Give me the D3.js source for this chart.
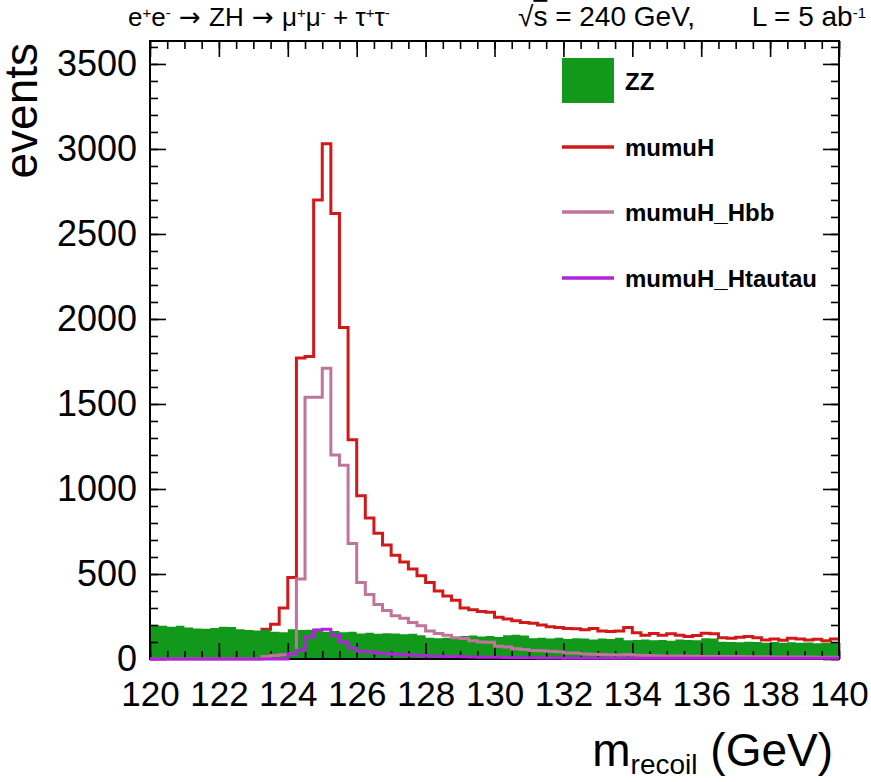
<!DOCTYPE html>
<html><head><meta charset="utf-8">
<script src="https://cdn.jsdelivr.net/npm/d3@7"></script>
<style>
body{margin:0;background:#fff}
svg{display:block}
text{font-family:"Liberation Sans",Arial,Helvetica,sans-serif;fill:#000}
</style>
</head><body>
<svg id="c" width="871" height="782"></svg>
<script>
// ---- data (80 bins of 0.25 GeV from 120 to 140) ----
const binLow = 120, binHigh = 140, binWidth = 0.25;
const zz = [200,195,190,195, 185,180,178,182, 190,188,175,170, 168,172,160,158,
            175,170,172,178, 160,165,158,160, 150,155,148,152, 150,145,148,140,
            125,122,125,120, 135,138,132,135, 130,140,142,138, 122,125,120,125,
            118,122,120,115, 120,118,125,110, 112,115,110,112, 108,115,112,110,
            122,120,102,100, 98,102,100,96, 100,96,98,95, 97,93,96,100];
const mumuH = [140,135,138,132, 130,128,135,130, 128,125,130,132, 140,175,205,300,
               480,1770,1780,2700, 3030,2620,1950,1290, 960,830,740,670, 610,570,530,490,
               450,400,370,345, 300,290,280,275, 245,235,225,215, 210,200,190,185,
               180,178,172,180, 165,162,165,185, 155,140,150,140, 148,140,132,138,
               152,148,125,122, 128,132,125,112, 118,110,122,118, 112,116,108,118];
const mumuH_Hbb = [0,0,0,0, 0,0,0,0, 0,0,0,0, 0,15,20,25,
                   30,470,1540,1540, 1710,1200,1140,680, 450,380,320,285, 255,240,215,195,
                   165,150,140,125, 120,108,100,98, 75,70,60,56, 50,48,46,42,
                   36,35,30,28, 27,25,24,26, 22,20,19,18, 18,17,16,16,
                   15,15,14,14, 14,13,13,13, 12,12,12,12, 12,11,11,11];
const mumuH_Htautau = [0,0,0,0, 0,0,0,0, 0,0,0,0, 0,0,0,0,
                       30,50,130,170, 175,140,100,65, 45,42,36,33, 28,25,22,20,
                       18,16,15,14, 13,12,11,10, 10,9,8,7, 7,6,6,6,
                       5,5,5,5, 5,5,5,5, 5,5,5,5, 4,4,4,4,
                       4,4,4,4, 4,4,4,4, 4,4,4,4, 4,4,4,4];
const xTickLabels = [120,122,124,126,128,130,132,134,136,138,140];
const yTickLabels = [0,500,1000,1500,2000,2500,3000,3500];
const yMax = 3635;
const legendNames = ["ZZ","mumuH","mumuH_Hbb","mumuH_Htautau"];

// ---- layout ----
const W = 871, H = 782;
const m = {left:150, right:32, top:41, bottom:123};
const pw = W - m.left - m.right, ph = H - m.top - m.bottom;
const col = {zz:"#12981a", h:"#d11919", hbb:"#c0749c", htt:"#b023d8"};

const svg = d3.select("#c");
const x = d3.scaleLinear().domain([binLow, binHigh]).range([m.left, m.left + pw]);
const y = d3.scaleLinear().domain([0, yMax]).range([m.top + ph, m.top]);

svg.append("clipPath").attr("id","clip").append("rect")
  .attr("x", m.left).attr("y", m.top - 2).attr("width", pw).attr("height", ph + 4);

function pts(vals){
  const p = vals.map((v,i)=>({e: binLow + i*binWidth, v}));
  p.push({e: binHigh, v: vals[vals.length-1]});
  return p;
}
const line = d3.line().curve(d3.curveStepAfter).x(d=>x(d.e)).y(d=>y(d.v));
const area = d3.area().curve(d3.curveStepAfter).x(d=>x(d.e)).y0(y(0)).y1(d=>y(d.v));

const g = svg.append("g").attr("clip-path","url(#clip)");
g.append("path").attr("d", line(pts(mumuH))).attr("fill","none").attr("stroke",col.h).attr("stroke-width",3);
g.append("path").attr("d", area(pts(zz))).attr("fill",col.zz).attr("stroke","none");

// ---- axes ----
const ax = svg.append("g");
const minorX = d3.range(binLow, binHigh + 0.001, 0.5);
const minorY = d3.range(0, yMax, 100);
function styleAxis(sel){ sel.select(".domain").remove(); sel.selectAll("line").attr("stroke","#000").attr("stroke-width",1.6); }

ax.append("g").attr("transform",`translate(0,${m.top+ph})`)
  .call(d3.axisBottom(x).tickValues(minorX).tickSizeInner(-8).tickSizeOuter(0).tickFormat(""))
  .call(styleAxis);
ax.append("g").attr("transform",`translate(0,${m.top})`)
  .call(d3.axisTop(x).tickValues(minorX).tickSizeInner(-8).tickSizeOuter(0).tickFormat(""))
  .call(styleAxis);
ax.append("g").attr("transform",`translate(0,${m.top})`)
  .call(d3.axisTop(x).tickValues(xTickLabels).tickSizeInner(-16).tickSizeOuter(0).tickFormat(""))
  .call(styleAxis);
const xb = ax.append("g").attr("transform",`translate(0,${m.top+ph})`)
  .call(d3.axisBottom(x).tickValues(xTickLabels).tickSizeInner(-16).tickSizeOuter(0).tickPadding(22).tickFormat(d3.format("d")))
  .call(styleAxis);
xb.selectAll("text").attr("font-size",35).attr("fill","#000");

ax.append("g").attr("transform",`translate(${m.left},0)`)
  .call(d3.axisLeft(y).tickValues(minorY).tickSizeInner(-8).tickSizeOuter(0).tickFormat(""))
  .call(styleAxis);
ax.append("g").attr("transform",`translate(${m.left+pw},0)`)
  .call(d3.axisRight(y).tickValues(minorY).tickSizeInner(-8).tickSizeOuter(0).tickFormat(""))
  .call(styleAxis);
ax.append("g").attr("transform",`translate(${m.left+pw},0)`)
  .call(d3.axisRight(y).tickValues(yTickLabels).tickSizeInner(-16).tickSizeOuter(0).tickFormat(""))
  .call(styleAxis);
const yl = ax.append("g").attr("transform",`translate(${m.left},0)`)
  .call(d3.axisLeft(y).tickValues(yTickLabels).tickSizeInner(-16).tickSizeOuter(0).tickPadding(13).tickFormat(d3.format("d")))
  .call(styleAxis);
yl.selectAll("text").attr("font-size",36).attr("fill","#000");

ax.append("rect").attr("x",m.left).attr("y",m.top).attr("width",pw).attr("height",ph)
  .attr("fill","none").attr("stroke","#000").attr("stroke-width",2);

// overlay histograms
const g2 = svg.append("g").attr("clip-path","url(#clip)");
g2.append("path").attr("d", line(pts(mumuH_Hbb))).attr("fill","none").attr("stroke",col.hbb).attr("stroke-width",3);
g2.append("path").attr("d", line(pts(mumuH_Htautau))).attr("fill","none").attr("stroke",col.htt).attr("stroke-width",3);

// ---- legend ----
const lg = svg.append("g");
const legX = 562, legW = 52, legTextX = 625;
const legY = [81, 147, 212, 278];
lg.append("rect").attr("x",legX).attr("y",legY[0]-23).attr("width",legW).attr("height",45).attr("fill",col.zz);
[[1,col.h],[2,col.hbb],[3,col.htt]].forEach(([i,c])=>{
  lg.append("line").attr("x1",legX).attr("x2",legX+legW).attr("y1",legY[i]).attr("y2",legY[i])
    .attr("stroke",c).attr("stroke-width",3.5);
});
legendNames.forEach((n,i)=>{
  lg.append("text").attr("x",legTextX).attr("y",legY[i]+9).attr("font-size",24).attr("font-weight","bold").text(n);
});

// ---- titles ----
function sup(t, s){ t.append("tspan").attr("baseline-shift","super").attr("font-size",15).text(s); }
function arrow(t){ t.append("tspan").attr("font-family","DejaVu Sans").text(" \u2192 "); }
const t1 = svg.append("text").attr("x",128).attr("y",26).attr("font-size",26).style("white-space","pre");
t1.append("tspan").text("e"); sup(t1,"+");
t1.append("tspan").text("e"); sup(t1,"-");
arrow(t1);
t1.append("tspan").text("ZH");
arrow(t1);
t1.append("tspan").text("\u03bc"); sup(t1,"+");
t1.append("tspan").text("\u03bc"); sup(t1,"-");
t1.append("tspan").text(" + \u03c4"); sup(t1,"+");
t1.append("tspan").text("\u03c4"); sup(t1,"-");

const t2 = svg.append("text").attr("x",518).attr("y",26).attr("font-size",28).style("white-space","pre");
t2.append("tspan").text("\u221a");
t2.append("tspan").style("text-decoration","overline").text("s");
t2.append("tspan").text(" = 240 GeV,");
const t3 = svg.append("text").attr("x",866).attr("y",26).attr("font-size",28).attr("text-anchor","end");
t3.append("tspan").text("L = 5 ab");
sup(t3,"-1");

svg.append("text").attr("transform","translate(37,43) rotate(-90)").attr("text-anchor","end")
  .attr("font-size",46).text("events");

const xt = svg.append("text").attr("x",833).attr("y",766).attr("text-anchor","end").attr("font-size",46);
xt.append("tspan").text("m");
xt.append("tspan").attr("font-size",28).attr("dy",8).text("recoil");
xt.append("tspan").attr("dy",-8).text(" (GeV)");
</script>
</body></html>
